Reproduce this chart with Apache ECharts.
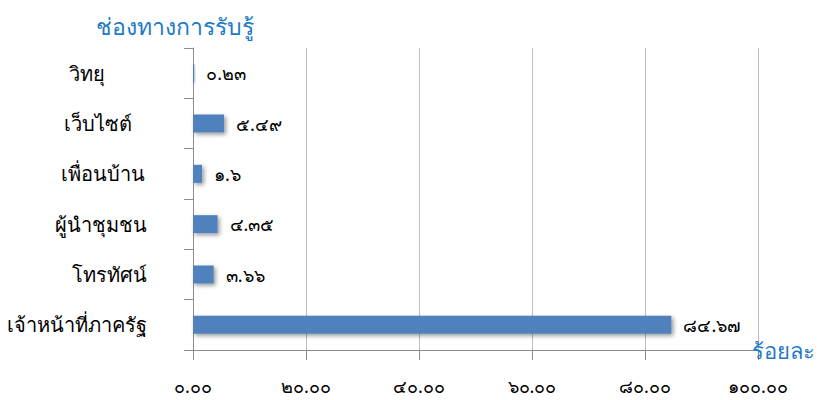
<!DOCTYPE html>
<html>
<head>
<meta charset="utf-8">
<script src="https://cdn.jsdelivr.net/npm/echarts@6/dist/echarts.min.js"></script>
<style>
  html, body { margin: 0; padding: 0; background: #fff; }
  #chart { width: 825px; height: 400px; }
</style>
</head>
<body>
<div id="chart"></div>
<script>
// ── Data ──────────────────────────────────────────────────────────────
const categories = ['วิทยุ', 'เว็บไซต์', 'เพื่อนบ้าน', 'ผู้นำชุมชน', 'โทรทัศน์', 'เจ้าหน้าที่ภาครัฐ'];
const values     = [0.23, 5.49, 1.6, 4.35, 3.66, 84.67];
const xTicks     = [0, 20, 40, 60, 80, 100];

// ── Style ─────────────────────────────────────────────────────────────
const fontFamily = '"Noto Sans", "DejaVu Sans", sans-serif';
const barColor   = '#4F81BD';
const titleBlue  = '#1E7AC6';
const axisGray   = '#8C8C8C';
const gridGray   = '#BDBDBD';
// extra right padding per category label (reference labels are not flush)
const labelPad   = [42, 15, 2, 0, 0, 0];

const thaiDigits = '๐๑๒๓๔๕๖๗๘๙';
const toThai = (s) => String(s).replace(/[0-9]/g, (d) => thaiDigits[+d]);

const rich = {};
labelPad.forEach((p, i) => {
  rich['c' + i] = { fontSize: 20, color: '#000', fontFamily, padding: [0, p, 0, 0] };
});

const chart = echarts.init(document.getElementById('chart'), null, { renderer: 'svg' });
chart.setOption({
  animation: false,
  title: [
    { text: 'ช่องทางการรับรู้', left: 91, top: 9,
      textStyle: { color: titleBlue, fontSize: 23, fontWeight: 'normal', fontFamily } },
    { text: 'ร้อยละ', right: 5, top: 334,
      textStyle: { color: titleBlue, fontSize: 22, fontWeight: 'normal', fontFamily } },
  ],
  grid: { left: 193, right: 67, top: 48, bottom: 50, containLabel: false },
  xAxis: {
    type: 'value', min: 0, max: 100, interval: 20,
    axisLine: { show: true, lineStyle: { color: axisGray } },
    axisTick: { show: true, length: 10, lineStyle: { color: axisGray } },
    splitLine: { show: true, lineStyle: { color: gridGray, width: 1 } },
    axisLabel: {
      margin: 27, fontSize: 18, lineHeight: 18, color: '#000', fontFamily,
      formatter: (v) => toThai(v.toFixed(2)),
    },
  },
  yAxis: {
    type: 'category', data: categories, inverse: true,
    axisLine: { show: true, lineStyle: { color: axisGray } },
    axisTick: { show: true, length: 9, lineStyle: { color: axisGray } },
    axisLabel: {
      margin: 46, fontSize: 20, color: '#000', fontFamily, rich,
      formatter: (v, i) => '{c' + i + '|' + v + '}',
    },
  },
  series: [{
    type: 'bar',
    data: values,
    barWidth: 18,
    itemStyle: {
      color: barColor,
      shadowColor: 'rgba(0,0,0,0.4)', shadowBlur: 4, shadowOffsetX: 2, shadowOffsetY: 2,
    },
    label: {
      show: true, position: 'right', distance: 12,
      fontSize: 18, color: '#000', fontFamily,
      formatter: (p) => toThai(p.value),
    },
  }],
});
</script>
</body>
</html>
